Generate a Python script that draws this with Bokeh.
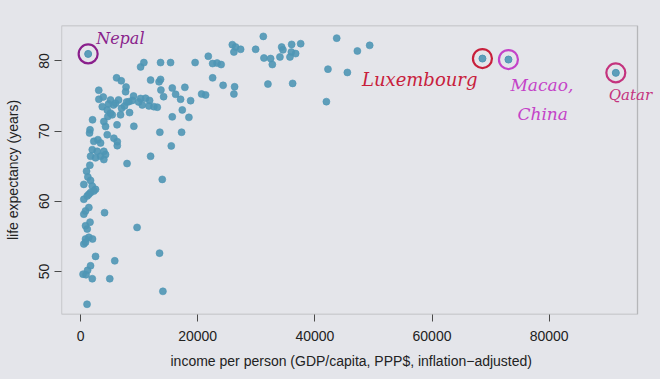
from bokeh.plotting import figure
from bokeh.models import Range1d, FixedTicker, Label, ColumnDataSource, BoxAnnotation, Title
from bokeh.embed import file_html
from bokeh.resources import INLINE

# ---- data: income per person (GDP/capita) and life expectancy ----
income = [
    10250, 10810, 13660, 15370, 19560, 21810, 22550, 23310, 24000, 25910,
    26470, 27330, 26180, 29890, 31200, 34330, 34550, 36040, 37580, 35990,
    36720, 35750, 34040, 31310, 32450, 32740, 43730, 47260, 49360, 42240,
    45550, 22550, 24340, 26300, 26180, 31990, 36210, 41970, 6150, 6950,
    7770, 7690, 11960, 13410, 13660, 13720, 14180, 15660, 16230, 17810,
    17080, 18790, 20670, 21350, 3110, 3130, 3880, 9050, 10250, 11100,
    11790, 8830, 8250, 5120, 3710, 4560, 5410, 4660, 5980, 7000,
    7520, 10540, 11670, 12520, 13100, 8370, 6830, 6230, 2050, 1620,
    1540, 3980, 4270, 4560, 9100, 5690, 6270, 6270, 13540, 17250,
    15490, 15660, 18500, 17370, 2270, 2960, 3420, 2000, 2850, 3980,
    3420, 4270, 1710, 2560, 11960, 3980, 1590, 7940, 1030, 1250,
    560, 1710, 2000, 2560, 1710, 1140, 560, 1420, 2270, 13950,
    1420, 850, 560, 4100, 1620, 850, 9650, 1140, 850, 1420,
    2050, 560, 850, 13490, 2560, 5840, 1710, 1200, 430, 940,
    2000, 4990, 14060, 1110, 5640, 6490, 7860, 9910, 4780, 5120,
]
life_exp = [
    79.15, 79.77, 79.77, 79.77, 79.77, 80.67, 79.63, 79.70, 79.49, 82.32,
    81.98, 81.66, 81.27, 81.66, 83.50, 81.98, 81.58, 82.36, 82.46, 81.27,
    81.05, 80.57, 80.57, 80.42, 80.34, 79.49, 83.25, 81.42, 82.22, 78.83,
    78.36, 77.59, 76.52, 76.32, 75.29, 76.70, 76.80, 74.20, 77.59, 77.17,
    76.28, 75.61, 77.27, 77.03, 77.37, 75.85, 74.91, 76.14, 75.25, 76.24,
    74.54, 74.34, 75.29, 75.15, 75.83, 74.54, 74.86, 75.00, 74.65, 74.68,
    74.37, 74.37, 74.20, 74.44, 73.49, 73.02, 72.32, 72.08, 73.97, 73.26,
    73.59, 73.73, 73.59, 73.49, 73.41, 72.64, 72.32, 70.90, 71.61, 70.19,
    69.73, 71.37, 70.66, 69.49, 70.69, 68.99, 68.50, 67.93, 69.84, 69.84,
    67.89, 72.03, 71.96, 73.02, 68.54, 68.78, 68.31, 67.36, 67.12, 67.12,
    66.42, 66.66, 66.42, 66.19, 66.42, 65.95, 65.14, 65.38, 64.29, 63.47,
    62.41, 62.98, 62.17, 61.70, 61.24, 60.76, 60.29, 61.00, 61.46, 63.12,
    59.11, 58.63, 58.17, 58.38, 57.03, 56.51, 56.28, 56.04, 54.63, 54.87,
    54.63, 53.92, 54.16, 52.61, 52.15, 51.52, 50.81, 50.17, 49.61, 49.53,
    48.97, 48.97, 47.17, 45.33, 73.73, 74.44, 74.16, 74.16, 73.87, 72.56,
]

# annotated countries
labeled_names = ["Nepal", "Luxembourg", "Macao,", "Qatar"]
labeled_income = [1300, 68610, 73050, 91380]
labeled_life = [81.0, 80.34, 80.2, 78.3]
labeled_colors = ["#8a1f8c", "#c8203c", "#c443c8", "#c4337e"]

x_ticks = [0, 20000, 40000, 60000, 80000]
y_ticks = [50, 60, 70, 80]
x_title = "income per person (GDP/capita, PPP$, inflation\u2212adjusted)"
y_title = "life expectancy (years)"

# plotting box (R-style) limits
x_lo, x_hi = -3250, 95080
y_lo, y_hi = 43.87, 85.05

BG = "#e4e5ea"
DOT = "#4f96b5"

W, H = 656, 376
LEFT, TOP, BOTTOM = 61, 25, 55
BOX_W = 576  # width in px of the R plotting box
frame_w = W - LEFT
x_end = x_lo + (x_hi - x_lo) * frame_w / BOX_W  # frame extends past the box so notes are not clipped

p = figure(width=W, height=H, output_backend="svg", toolbar_location=None,
           x_range=Range1d(x_lo, x_end), y_range=Range1d(y_lo, y_hi),
           min_border_left=LEFT, min_border_right=0, min_border_top=TOP,
           min_border_bottom=BOTTOM)
p.background_fill_color = BG
p.border_fill_color = BG
p.outline_line_color = None
p.grid.visible = False

p.add_layout(BoxAnnotation(left=x_lo, right=x_hi, bottom=y_lo, top=y_hi,
                           fill_color=None, line_color="#4a4a4a", line_width=1.3))

for ax in (p.xaxis[0], p.yaxis[0]):
    ax.axis_line_color = None
    ax.major_tick_out = 7
    ax.major_tick_in = 0
    ax.minor_tick_line_color = None
    ax.major_tick_line_color = "#4a4a4a"
    ax.major_label_text_font = "Liberation Sans"
    ax.major_label_text_font_size = "14px"
    ax.major_label_text_color = "#222222"
    ax.axis_label_text_font = "Liberation Sans"
    ax.axis_label_text_font_size = "14px"
    ax.axis_label_text_font_style = "normal"
    ax.axis_label_text_color = "#222222"

p.xaxis.ticker = FixedTicker(ticks=x_ticks)
p.yaxis.ticker = FixedTicker(ticks=y_ticks)
p.xaxis.formatter.use_scientific = False
p.xaxis.major_label_standoff = 9
p.yaxis.axis_label = y_title
p.yaxis.major_label_orientation = "vertical"
p.yaxis.major_label_standoff = 5
p.yaxis.axis_label_standoff = 16

# x title centred under the R box rather than the wider frame
p.add_layout(Title(text=x_title, align="left", offset=109, standoff=15,
                   text_font="Liberation Sans", text_font_size="14px",
                   text_font_style="normal", text_color="#222222"), "below")

src = ColumnDataSource(dict(x=income, y=life_exp))
p.scatter("x", "y", source=src, size=7, fill_color=DOT, line_color=DOT,
          fill_alpha=0.9, line_alpha=0.6)

hl = ColumnDataSource(dict(x=labeled_income, y=labeled_life, c=labeled_colors))
p.scatter("x", "y", source=hl, size=7, fill_color=DOT, line_color=DOT, fill_alpha=0.9)
p.scatter("x", "y", source=hl, size=19, fill_color=None, line_color="c", line_width=2.2)

# handwritten-style annotations, offset from their points
offsets = [(8, 15, "left", 16), (-5, -21, "right", 18), (2, -25, "left", 17), (-7, -22, "left", 15)]
for name, xv, yv, col, (dx, dy, al, fs) in zip(labeled_names, labeled_income, labeled_life,
                                                 labeled_colors, offsets):
    p.add_layout(Label(x=xv, y=yv, x_offset=dx, y_offset=dy, text=name, text_align=al,
                       text_baseline="alphabetic", text_color=col, text_font="DejaVu Serif",
                       text_font_style="italic", text_font_size=f"{fs}px"))
p.add_layout(Label(x=labeled_income[2], y=labeled_life[2], x_offset=9, y_offset=-54,
                   text="China", text_align="left", text_baseline="alphabetic",
                   text_color=labeled_colors[2], text_font="DejaVu Serif",
                   text_font_style="italic", text_font_size="17px"))

html = file_html(p, INLINE)
html = html.replace("<head>", "<head><style>body{background:%s;}</style>" % BG, 1)
open("out.html", "w").write(html)
